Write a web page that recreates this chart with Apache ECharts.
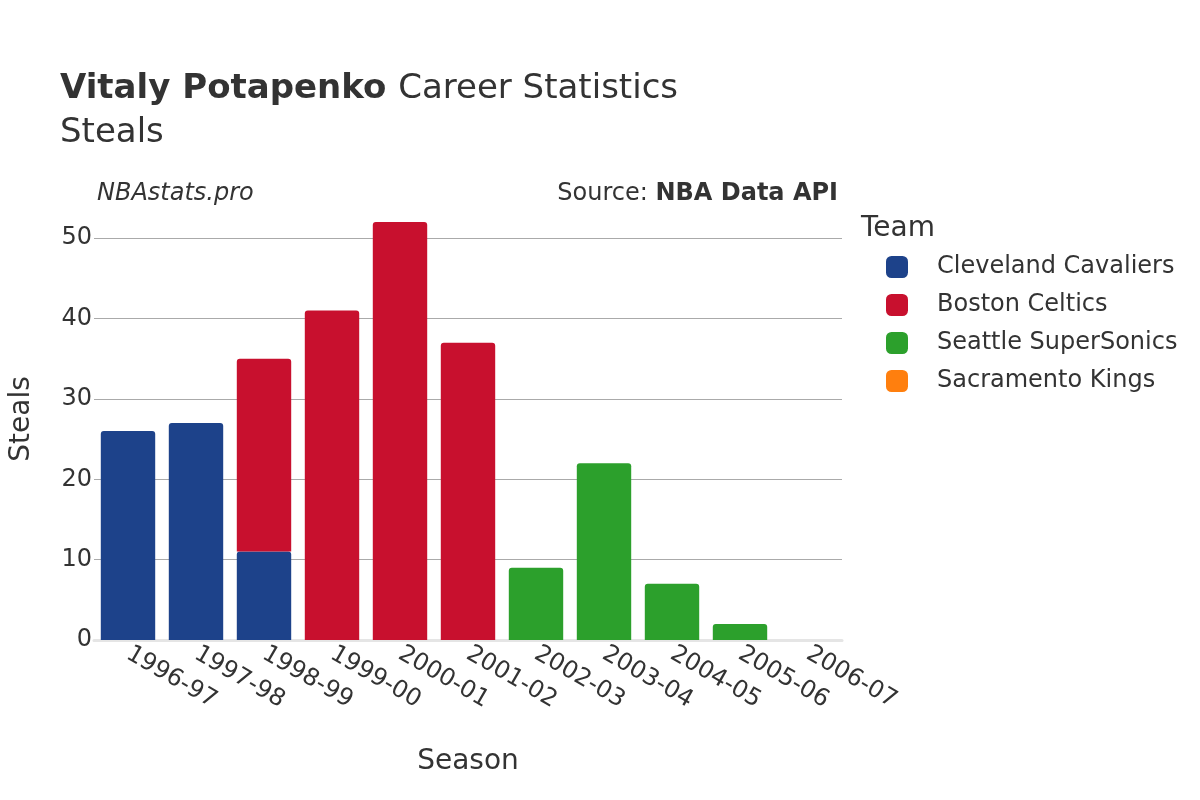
<!DOCTYPE html>
<html>
<head>
<meta charset="utf-8">
<script src="https://cdn.jsdelivr.net/npm/echarts@6/dist/echarts.min.js"></script>
<style>
  html, body { margin: 0; padding: 0; background: #fff; }
  #chart { width: 1200px; height: 800px; }
</style>
</head>
<body>
<div id="chart"></div>
<script>
const seasons = ['1996-97', '1997-98', '1998-99', '1999-00', '2000-01', '2001-02', '2002-03', '2003-04', '2004-05', '2005-06', '2006-07']
const cleveland = [26, 27, 11, null, null, null, null, null, null, null, null]
const boston = [null, null, 24, 41, 52, 37, null, null, null, null, null]
const seattle = [null, null, null, null, null, null, 9, 22, 7, 2, null]
const sacramento = [null, null, null, null, null, null, null, null, null, null, 0]
const yTicks = [0, 10, 20, 30, 40, 50]

const teams = [
  { name: 'Cleveland Cavaliers', data: cleveland, color: '#1d428a' },
  { name: 'Boston Celtics', data: boston, color: '#c8102e' },
  { name: 'Seattle SuperSonics', data: seattle, color: '#2ca02c' },
  { name: 'Sacramento Kings', data: sacramento, color: '#ff7f0e' }
]

const font = 'DejaVu Sans'
const chart = echarts.init(document.getElementById('chart'))

const series = teams.map(t => {
  return {
    type: 'bar',
    name: t.name,
    stack: 'total',
    data: t.data,
    barCategoryGap: '20%',
    itemStyle: {
      color: t.color,
      borderRadius: [3, 3, 0, 0]
    }
  }
})

chart.setOption({
  animation: false,
  textStyle: { fontFamily: font },
  grid: {
    left: 90,
    right: 358,
    top: 198,
    bottom: 160,
    containLabel: false
  },
  graphic: [
    {
      type: 'text', left: 60, top: 72,
      style: {
        text: '{b|Vitaly Potapenko }{n|Career Statistics}',
        rich: {
          b: { fontFamily: font, fontSize: 34, fontWeight: 'bold', fill: '#333' },
          n: { fontFamily: font, fontSize: 34, fill: '#333' }
        }
      }
    },
    {
      type: 'text', left: 60, top: 116,
      style: { text: 'Steals', fontFamily: font, fontSize: 34, fill: '#333' }
    },
    {
      type: 'text', left: 97, top: 182,
      style: { text: 'NBAstats.pro', fontFamily: font, fontSize: 24, fontStyle: 'italic', fill: '#333' }
    },
    {
      type: 'text', right: 362, top: 182,
      style: {
        text: '{n|Source: }{b|NBA Data API}',
        rich: {
          n: { fontFamily: font, fontSize: 24, fill: '#333' },
          b: { fontFamily: font, fontSize: 24, fontWeight: 'bold', fill: '#333' }
        }
      }
    },
    {
      type: 'text', left: 861, top: 215,
      style: { text: 'Team', fontFamily: font, fontSize: 28, fill: '#333' }
    }
  ],
  legend: {
    orient: 'vertical',
    left: 881,
    top: 250,
    itemGap: 14,
    itemWidth: 22,
    itemHeight: 22,
    icon: 'roundRect',
    data: teams.map(t => t.name),
    textStyle: { fontFamily: font, fontSize: 24, color: '#333', padding: [0, 0, 0, 24] }
  },
  xAxis: {
    type: 'category',
    data: seasons,
    name: 'Season',
    nameLocation: 'middle',
    nameGap: 108,
    nameTextStyle: { fontFamily: font, fontSize: 28, color: '#333' },
    axisLine: { lineStyle: { color: '#e5e5e5', width: 3 } },
    axisTick: { show: false },
    axisLabel: {
      rotate: -30,
      fontFamily: font,
      fontSize: 24,
      color: '#333',
      margin: 12,
      interval: 0
    }
  },
  yAxis: {
    type: 'value',
    min: 0,
    max: 55,
    interval: 10,
    name: 'Steals',
    nameLocation: 'middle',
    nameGap: 58,
    nameTextStyle: { fontFamily: font, fontSize: 28, color: '#333' },
    axisLine: { show: false },
    axisTick: { show: false },
    axisLabel: {
      fontFamily: font,
      fontSize: 24,
      color: '#333',
      margin: 2,
      formatter: v => (yTicks.indexOf(v) >= 0 ? String(v) : '')
    },
    splitLine: {
      showMaxLine: false,
      lineStyle: { color: '#aaa', width: 1 }
    }
  },
  series: series
})
</script>
</body>
</html>
